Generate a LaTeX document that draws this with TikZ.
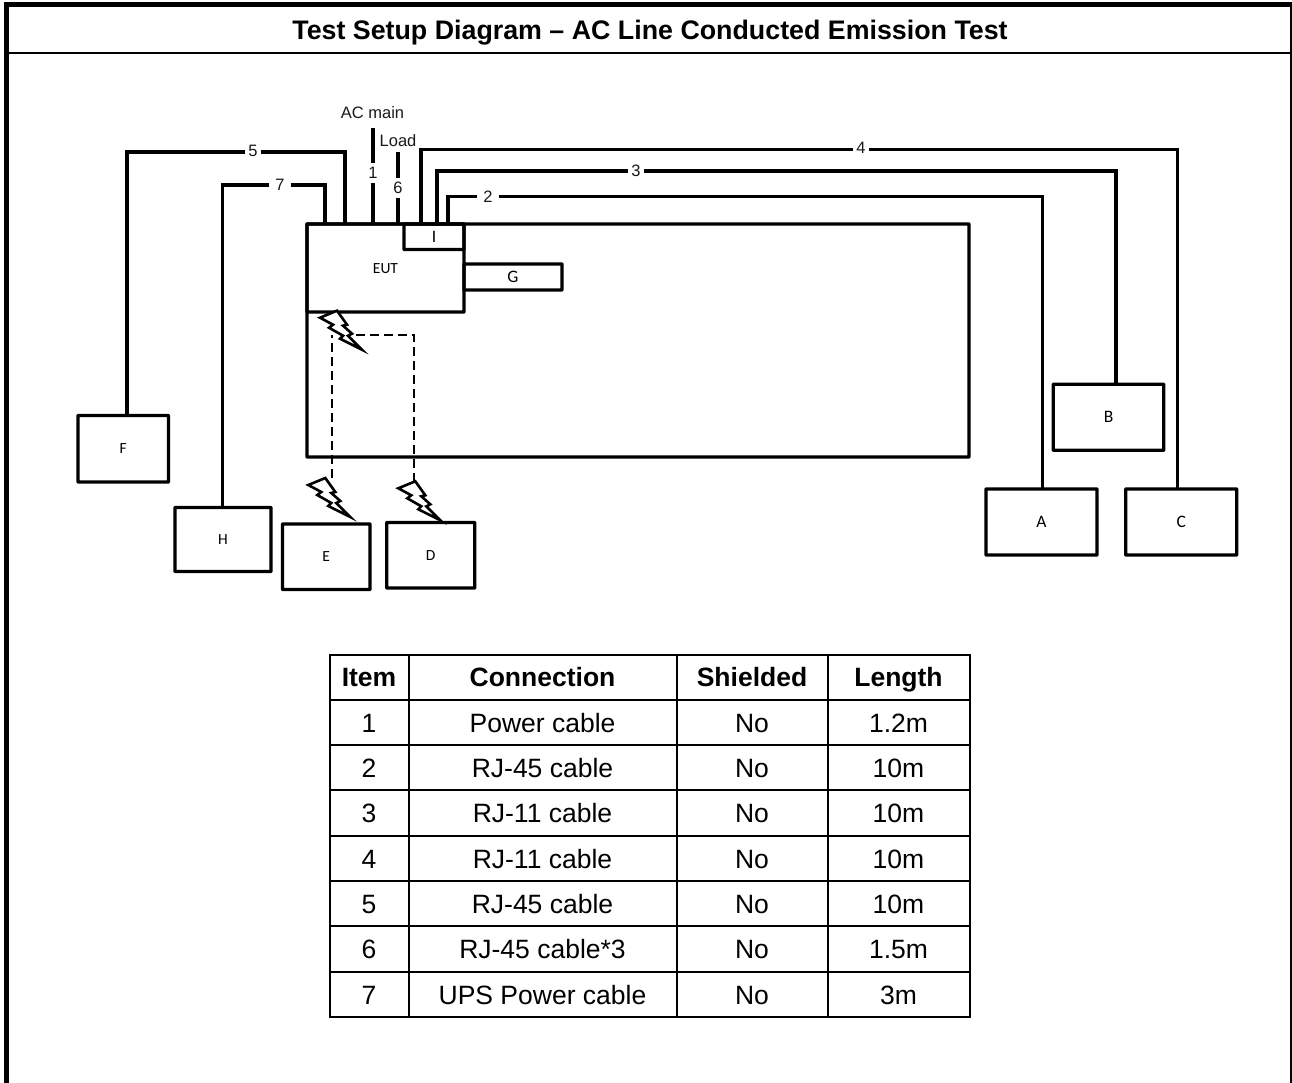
\documentclass[tikz,border=0pt]{standalone}
\usepackage{fontspec}
\setmainfont{Liberation Sans}
\newfontfamily\carlito{Carlito}
\tikzset{
  boxn/.style={draw=black,line width=3.3pt,rectangle,inner sep=0pt,outer sep=0pt,fill=none,align=center,rounded corners=0.5pt,text height=10pt,text depth=0pt},
  smallt/.style={font=\carlito\fontsize{15.5}{18}\selectfont},
  larget/.style={font=\carlito\fontsize{17.5}{20}\selectfont,text height=11pt},
  wire/.style={draw=black,line width=3.3pt,line join=miter},
  cab/.style={inner xsep=3.4pt,inner ysep=4pt,fill=white,font=\fontsize{16.5}{19}\selectfont,text=black!90,text height=12pt,text depth=0pt},
  cabwide/.style={cab,inner xsep=6.5pt},
  lab/.style={inner sep=0pt,font=\fontsize{16.5}{19}\selectfont,text=black!90,text height=12pt,text depth=0pt},
  cell/.style={inner sep=0pt,font=\fontsize{26.5}{30}\selectfont,text height=19pt,text depth=0pt},
  hcell/.style={inner sep=0pt,font=\bfseries\fontsize{26.5}{30}\selectfont,text height=19pt,text depth=0pt},
  grid/.style={draw=black,line width=2pt,line cap=rect},
  bolt/.style={draw=black,fill=white,line width=2.6pt,line join=miter},
  dashw/.style={draw=black,line width=2pt,dash pattern=on 9pt off 5pt},
}
\newcommand{\boltat}[1]{\draw[bolt,shift={#1}] (0,0) -- (17,-7) -- (27,7) -- (23,8) -- (32,16) -- (28,18) -- (42,32) -- (20,21) -- (23,18) -- (9,10) -- (13,7) -- cycle;}
\begin{document}
\begin{tikzpicture}[x=1pt,y=-1pt]
\useasboundingbox (0,0) rectangle (1292,1083);
\fill[white] (0,0) rectangle (1292,1083);
% frame
\draw[line width=4.7pt] (6.3,1083) -- (6.3,4.5);
\draw[line width=5pt] (4,4.5) -- (1292,4.5);
\draw[line width=2.7pt] (1291.3,2) -- (1291.3,1083);
\draw[line width=2.4pt] (6,53) -- (1291,53);
\node[hcell,font=\bfseries\fontsize{26.8}{30}\selectfont] (title) at (650,30) {Test Setup Diagram – AC Line Conducted Emission Test};
% boxes
\node[boxn,minimum width=662pt,minimum height=233pt] (bench) at (638,340.5) {};
\node[boxn,minimum width=157pt,minimum height=88pt,smallt] (EUT) at (385.5,268) {EUT};
\node[boxn,minimum width=60pt,minimum height=25.5pt,larget] (I) at (434,236.75) {I};
\node[boxn,minimum width=98pt,minimum height=26pt,larget] (G) at (513,277) {G};
\node[boxn,minimum width=90.5pt,minimum height=66.5pt,smallt] (F) at (123.25,448.75) {F};
\node[boxn,minimum width=96pt,minimum height=64pt,smallt] (H) at (223,539.5) {H};
\node[boxn,minimum width=87.5pt,minimum height=65.5pt,smallt] (E) at (326.25,556.75) {E};
\node[boxn,minimum width=88pt,minimum height=65.5pt,smallt] (D) at (430.7,555.25) {D};
\node[boxn,minimum width=111pt,minimum height=66pt,larget] (A) at (1041.5,522) {A};
\node[boxn,minimum width=111pt,minimum height=66pt,larget] (C) at (1181.2,522) {C};
\node[boxn,minimum width=110.5pt,minimum height=66pt,larget] (B) at (1108.5,417.2) {B};
% waypoints
\coordinate (w5a) at (127,152);   \coordinate (w5b) at (345,152);
\coordinate (w7a) at (222.5,185); \coordinate (w7b) at (325,185);
\coordinate (w1) at (373,128);
\coordinate (w6) at (398,152);
\coordinate (w4a) at (421,149.5); \coordinate (w4b) at (1177.5,149.5);
\coordinate (w3a) at (437,171); \coordinate (w3b) at (1116,171);
\coordinate (w2a) at (448,196.5); \coordinate (w2b) at (1042.5,196.5);
% wires
\draw[wire] (w5a |- F.north) -- (w5a) -- (w5b) -- (w5b |- EUT.north);
\draw[wire] (w7a |- H.north) -- (w7a) -- (w7b) -- (w7b |- EUT.north);
\draw[wire] (w1) -- (w1 |- EUT.north);
\draw[wire] (w6) -- (w6 |- EUT.north);
\draw[wire] (w4a |- EUT.north) -- (w4a) -- (w4b) -- (w4b |- C.north);
\draw[wire] (w3a |- EUT.north) -- (w3a) -- (w3b) -- (w3b |- B.north);
\draw[wire] (w2a |- EUT.north) -- (w2a) -- (w2b) -- (w2b |- A.north);
% cable labels
\node[cab] (n5) at (253,150.5) {5};
\node[cabwide] (n7) at (280,184.5) {7};
\node[cab] (n1) at (373,173) {1};
\node[cab] (n6) at (398,188) {6};
\node[cab] (n4) at (861,148) {4};
\node[cab] (n3) at (636,171) {3};
\node[cabwide] (n2) at (488,196.5) {2};
\node[lab] (ac) at (372.5,113) {AC main};
\node[lab] (load) at (398,141) {Load};
% dashed
\coordinate (d1) at (331.7,478);
\coordinate (d2) at (331.7,335);
\coordinate (d3) at (413.5,335);
\coordinate (d4) at (413.5,482);
\draw[dashw] (d1) -- (d2);
\draw[dashw] (d4) -- (d3) -- (356,335);
% bolts
\boltat{(320,317.7)}
\boltat{(308.3,485)}
\boltat{(398.3,488.3)}
% table
\foreach \yy in {655,700,745,790,836,881,926,972,1017} \draw[grid] (330,\yy) -- (970,\yy);
\foreach \xx in {330,409,677,828,970} \draw[grid] (\xx,655) -- (\xx,1017);
\node[hcell] (h1) at (369,677) {Item};
\node[hcell] (h2) at (542.5,677) {Connection};
\node[hcell] (h3) at (752,677) {Shielded};
\node[hcell] (h4) at (898.5,677) {Length};
\node[cell] (a1) at (369,723) {1};
\node[cell] (b1) at (542.5,723) {Power cable};
\node[cell] (c1) at (752,723) {No};
\node[cell] (d11) at (898.5,723) {1.2m};
\node[cell] (a2) at (369,768) {2};
\node[cell] (b2) at (542.5,768) {RJ-45 cable};
\node[cell] (c2) at (752,768) {No};
\node[cell] (d12) at (898.5,768) {10m};
\node[cell] (a3) at (369,813) {3};
\node[cell] (b3) at (542.5,813) {RJ-11 cable};
\node[cell] (c3) at (752,813) {No};
\node[cell] (d13) at (898.5,813) {10m};
\node[cell] (a4) at (369,859) {4};
\node[cell] (b4) at (542.5,859) {RJ-11 cable};
\node[cell] (c4) at (752,859) {No};
\node[cell] (d14) at (898.5,859) {10m};
\node[cell] (a5) at (369,904) {5};
\node[cell] (b5) at (542.5,904) {RJ-45 cable};
\node[cell] (c5) at (752,904) {No};
\node[cell] (d15) at (898.5,904) {10m};
\node[cell] (a6) at (369,949) {6};
\node[cell] (b6) at (542.5,949) {RJ-45 cable*3};
\node[cell] (c6) at (752,949) {No};
\node[cell] (d16) at (898.5,949) {1.5m};
\node[cell] (a7) at (369,995) {7};
\node[cell] (b7) at (542.5,995) {UPS Power cable};
\node[cell] (c7) at (752,995) {No};
\node[cell] (d17) at (898.5,995) {3m};
\end{tikzpicture}
\end{document}
